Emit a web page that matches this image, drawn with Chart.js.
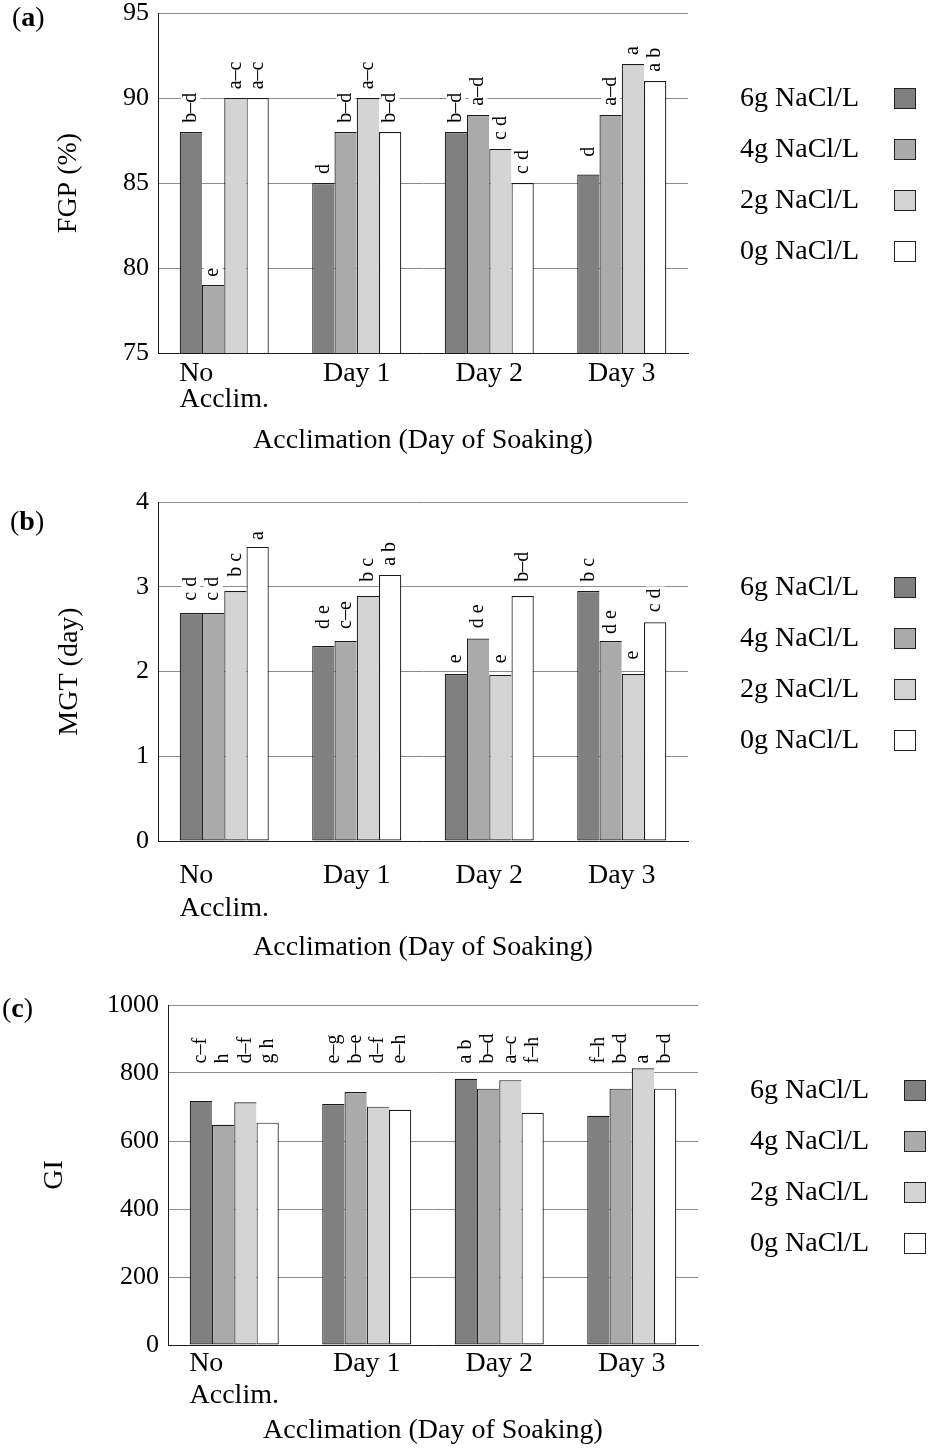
<!DOCTYPE html>
<html>
<head>
<meta charset="utf-8">
<script src="https://cdn.jsdelivr.net/npm/chart.js@4.4.1/dist/chart.umd.min.js"></script>
<style>
html,body{margin:0;padding:0;background:#fff;overflow:hidden;width:928px;height:1448px;position:relative;}
.panel{position:absolute;left:0;width:928px;}
canvas{display:block;}
</style>
</head>
<body>
<div class="panel" style="top:-10px;height:490px"><canvas id="ca" width="928" height="490"></canvas></div>
<div class="panel" style="top:480px;height:490px"><canvas id="cb" width="928" height="490"></canvas></div>
<div class="panel" style="top:970px;height:500px"><canvas id="cc" width="928" height="500"></canvas></div>
<script>
// ---------- data ----------
const categories = [["No", "Acclim."], "Day 1", "Day 2", "Day 3"];
const seriesNames = ["6g NaCl/L", "4g NaCl/L", "2g NaCl/L", "0g NaCl/L"];
const seriesColors = ["#808080", "#aaaaaa", "#d4d4d4", "#ffffff"];
const xAxisTitle = "Acclimation (Day of Soaking)";

// (a) FGP (%)
const fgp6 = [88, 85, 88, 85.5];
const fgp4 = [79, 88, 89, 89];
const fgp2 = [90, 90, 87, 92];
const fgp0 = [90, 88, 85, 91];
const fgpLetters6 = ["b–d", "d", "b–d", "d"];
const fgpLetters4 = ["e", "b–d", "a–d", "a–d"];
const fgpLetters2 = ["a–c", "a–c", "c d", "a"];
const fgpLetters0 = ["a–c", "b–d", "c d", "a b"];
const fgpLetterAt6 = [88.55, 85.53, 88.55, 86.55];
const fgpLetterAt4 = [79.49, 88.55, 89.55, 89.55];
const fgpLetterAt2 = [90.51, 90.51, 87.53, 92.53];
const fgpLetterAt0 = [90.51, 88.55, 85.53, 91.55];
const fgpTicks = {min: 75, max: 95, step: 5};

// (b) MGT (day)
const mgt6 = [2.69, 2.30, 1.97, 2.95];
const mgt4 = [2.69, 2.36, 2.39, 2.36];
const mgt2 = [2.95, 2.89, 1.96, 1.97];
const mgt0 = [3.47, 3.14, 2.89, 2.58];
const mgtLetters6 = ["c d", "d e", "e", "b c"];
const mgtLetters4 = ["c d", "c–e", "d e", "d e"];
const mgtLetters2 = ["b c", "b c", "e", "e"];
const mgtLetters0 = ["a", "a b", "b–d", "c d"];
const mgtLetterAt6 = [2.835, 2.502, 2.098, 3.059];
const mgtLetterAt4 = [2.835, 2.502, 2.51, 2.443];
const mgtLetterAt2 = [3.118, 3.059, 2.098, 2.141];
const mgtLetterAt0 = [3.553, 3.247, 3.059, 2.698];
const mgtTicks = {min: 0, max: 4, step: 1};

// (c) GI
const gi6 = [718, 709, 783, 674];
const gi4 = [648, 744, 754, 754];
const gi2 = [714, 701, 779, 814];
const gi0 = [654, 692, 683, 754];
const giLetters6 = ["c–f", "e–g", "a b", "f–h"];
const giLetters4 = ["h", "b–e", "b–d", "b–d"];
const giLetters2 = ["d–f", "d–f", "a–c", "a"];
const giLetters0 = ["g h", "e–h", "f–h", "b–d"];
const giLetterAt = 828;
const giTicks = {min: 0, max: 1000, step: 200};

// ---------- styling / helpers ----------
const FONT = '"Liberation Serif", "Times New Roman", serif';
Chart.defaults.font.family = FONT;
Chart.defaults.color = '#000';

const measureCtx = document.createElement('canvas').getContext('2d');
function padLinesLeft(lines, size) {
  measureCtx.font = size + 'px ' + FONT;
  const widths = lines.map(l => measureCtx.measureText(l).width);
  const maxW = Math.max(...widths);
  const sp = measureCtx.measureText(' ').width;
  return lines.map((l, i) => l + ' '.repeat(Math.max(0, Math.round((maxW - widths[i]) / sp))));
}

const letterPlugin = {
  id: 'barLetters',
  afterDatasetsDraw(chart) {
    const ctx = chart.ctx;
    const y = chart.scales.y;
    ctx.save();
    ctx.font = '20px ' + FONT;
    chart.data.datasets.forEach((ds, i) => {
      const meta = chart.getDatasetMeta(i);
      meta.data.forEach((bar, j) => {
        const txt = ds.letters[j];
        const at = Array.isArray(ds.letterAt) ? ds.letterAt[j] : ds.letterAt;
        const py = y.getPixelForValue(at);
        const w = ctx.measureText(txt).width;
        ctx.save();
        ctx.translate(bar.x, py);
        ctx.rotate(-Math.PI / 2);
        ctx.fillStyle = '#fff';
        ctx.fillRect(-2, -9.5, w + 4, 19);
        ctx.fillStyle = '#000';
        ctx.textAlign = 'left';
        ctx.textBaseline = 'middle';
        ctx.fillText(txt, 0, 0);
        ctx.restore();
      });
    });
    ctx.restore();
  }
};

const legendPlugin = {
  id: 'sideLegend',
  afterDraw(chart) {
    const {ctx, chartArea} = chart;
    ctx.save();
    ctx.font = '28px ' + FONT;
    ctx.textBaseline = 'middle';
    ctx.textAlign = 'left';
    chart.data.datasets.forEach((ds, i) => {
      const cy = chartArea.top + 85.5 + i * 51;
      ctx.fillStyle = '#000';
      ctx.fillText(ds.label, chartArea.right + 52, cy);
      ctx.fillStyle = ds.backgroundColor;
      ctx.fillRect(chartArea.right + 206, cy - 10.5, 22, 21);
      ctx.strokeStyle = '#222';
      ctx.lineWidth = 1;
      ctx.strokeRect(chartArea.right + 206.5, Math.round(cy - 10.5) + 0.5, 21, 20);
    });
    ctx.restore();
  }
};

const tagPlugin = {
  id: 'panelTag',
  afterDraw(chart, args, opts) {
    const ctx = chart.ctx;
    ctx.save();
    ctx.textBaseline = 'middle';
    ctx.textAlign = 'left';
    ctx.fillStyle = '#000';
    let x = opts.x;
    ctx.font = '28px ' + FONT;
    ctx.fillText('(', x, opts.y); x += ctx.measureText('(').width;
    ctx.font = 'bold 28px ' + FONT;
    ctx.fillText(opts.letter, x, opts.y); x += ctx.measureText(opts.letter).width;
    ctx.font = '28px ' + FONT;
    ctx.fillText(')', x, opts.y);
    ctx.restore();
  }
};

function makePanel(id, cfg) {
  const datasets = cfg.series.map((vals, i) => ({
    label: seriesNames[i],
    data: vals,
    backgroundColor: seriesColors[i],
    borderColor: '#1a1a1a',
    borderWidth: i === cfg.series.length - 1 ? 1.2 : {top: 1.2, left: 1.2, bottom: 1.2, right: 0},
    borderSkipped: false,
    categoryPercentage: 0.672,
    barPercentage: 1.0,
    letters: cfg.letters[i],
    letterAt: cfg.letterAt[i]
  }));
  return new Chart(document.getElementById(id), {
    type: 'bar',
    data: {labels: categories, datasets},
    options: {
      responsive: false,
      animation: false,
      events: [],
      layout: {padding: {top: cfg.padTop, right: cfg.padRight, left: 0, bottom: 0}},
      plugins: {
        legend: {display: false},
        tooltip: {enabled: false},
        panelTag: cfg.tag
      },
      scales: {
        x: {
          grid: {display: false, drawTicks: false},
          border: {display: true, color: '#1a1a1a', width: 1},
          ticks: {
            padding: cfg.xTickPad,
            maxRotation: 0,
            autoSkip: false,
            font: {family: FONT, size: 28, lineHeight: cfg.xTickLH / 28},
            callback: function (value, index) {
              const lab = categories[index];
              return Array.isArray(lab) ? padLinesLeft(lab, 28) : lab;
            }
          },
          title: {
            display: true,
            text: xAxisTitle,
            font: {family: FONT, size: 28, lineHeight: 1.2},
            padding: {top: 0, bottom: cfg.xTitlePad}
          },
          afterFit: s => { s.height = cfg.xHeight; }
        },
        y: {
          min: cfg.ticks.min,
          max: cfg.ticks.max,
          ticks: {
            stepSize: cfg.ticks.step,
            padding: 9,
            font: {family: FONT, size: 26, lineHeight: 1.0},
            callback: v => String(v)
          },
          grid: {color: '#8c8c8c', lineWidth: 1, drawTicks: false},
          border: {display: true, color: '#1a1a1a', width: 1},
          title: {
            display: true,
            text: cfg.yTitle,
            font: {family: FONT, size: 28, lineHeight: 1.2},
            padding: {top: cfg.yTitlePad, bottom: 0}
          },
          afterFit: s => { s.width = cfg.yWidth; }
        }
      }
    },
    plugins: [letterPlugin, legendPlugin, tagPlugin]
  });
}

makePanel('ca', {
  series: [fgp6, fgp4, fgp2, fgp0],
  letters: [fgpLetters6, fgpLetters4, fgpLetters2, fgpLetters0],
  letterAt: [fgpLetterAt6, fgpLetterAt4, fgpLetterAt2, fgpLetterAt0],
  ticks: fgpTicks, yTitle: 'FGP (%)',
  padTop: 23, padRight: 240, yWidth: 158, yTitlePad: 52,
  xHeight: 127, xTickPad: 8, xTickLH: 26, xTitlePad: 22.7,
  tag: {letter: 'a', x: 12, y: 28.5}
});

makePanel('cb', {
  series: [mgt6, mgt4, mgt2, mgt0],
  letters: [mgtLetters6, mgtLetters4, mgtLetters2, mgtLetters0],
  letterAt: [mgtLetterAt6, mgtLetterAt4, mgtLetterAt2, mgtLetterAt0],
  ticks: mgtTicks, yTitle: 'MGT (day)',
  padTop: 21, padRight: 240, yWidth: 158, yTitlePad: 53,
  xHeight: 129, xTickPad: 18.5, xTickLH: 33, xTitlePad: 5.2,
  tag: {letter: 'b', x: 10, y: 43}
});

makePanel('cc', {
  series: [gi6, gi4, gi2, gi0],
  letters: [giLetters6, giLetters4, giLetters2, giLetters0],
  letterAt: [giLetterAt, giLetterAt, giLetterAt, giLetterAt],
  ticks: giTicks, yTitle: 'GI',
  padTop: 35, padRight: 230, yWidth: 168, yTitlePad: 38,
  xHeight: 125, xTickPad: 2.5, xTickLH: 32, xTitlePad: 22.2,
  tag: {letter: 'c', x: 2, y: 39.5}
});
</script>
</body>
</html>
